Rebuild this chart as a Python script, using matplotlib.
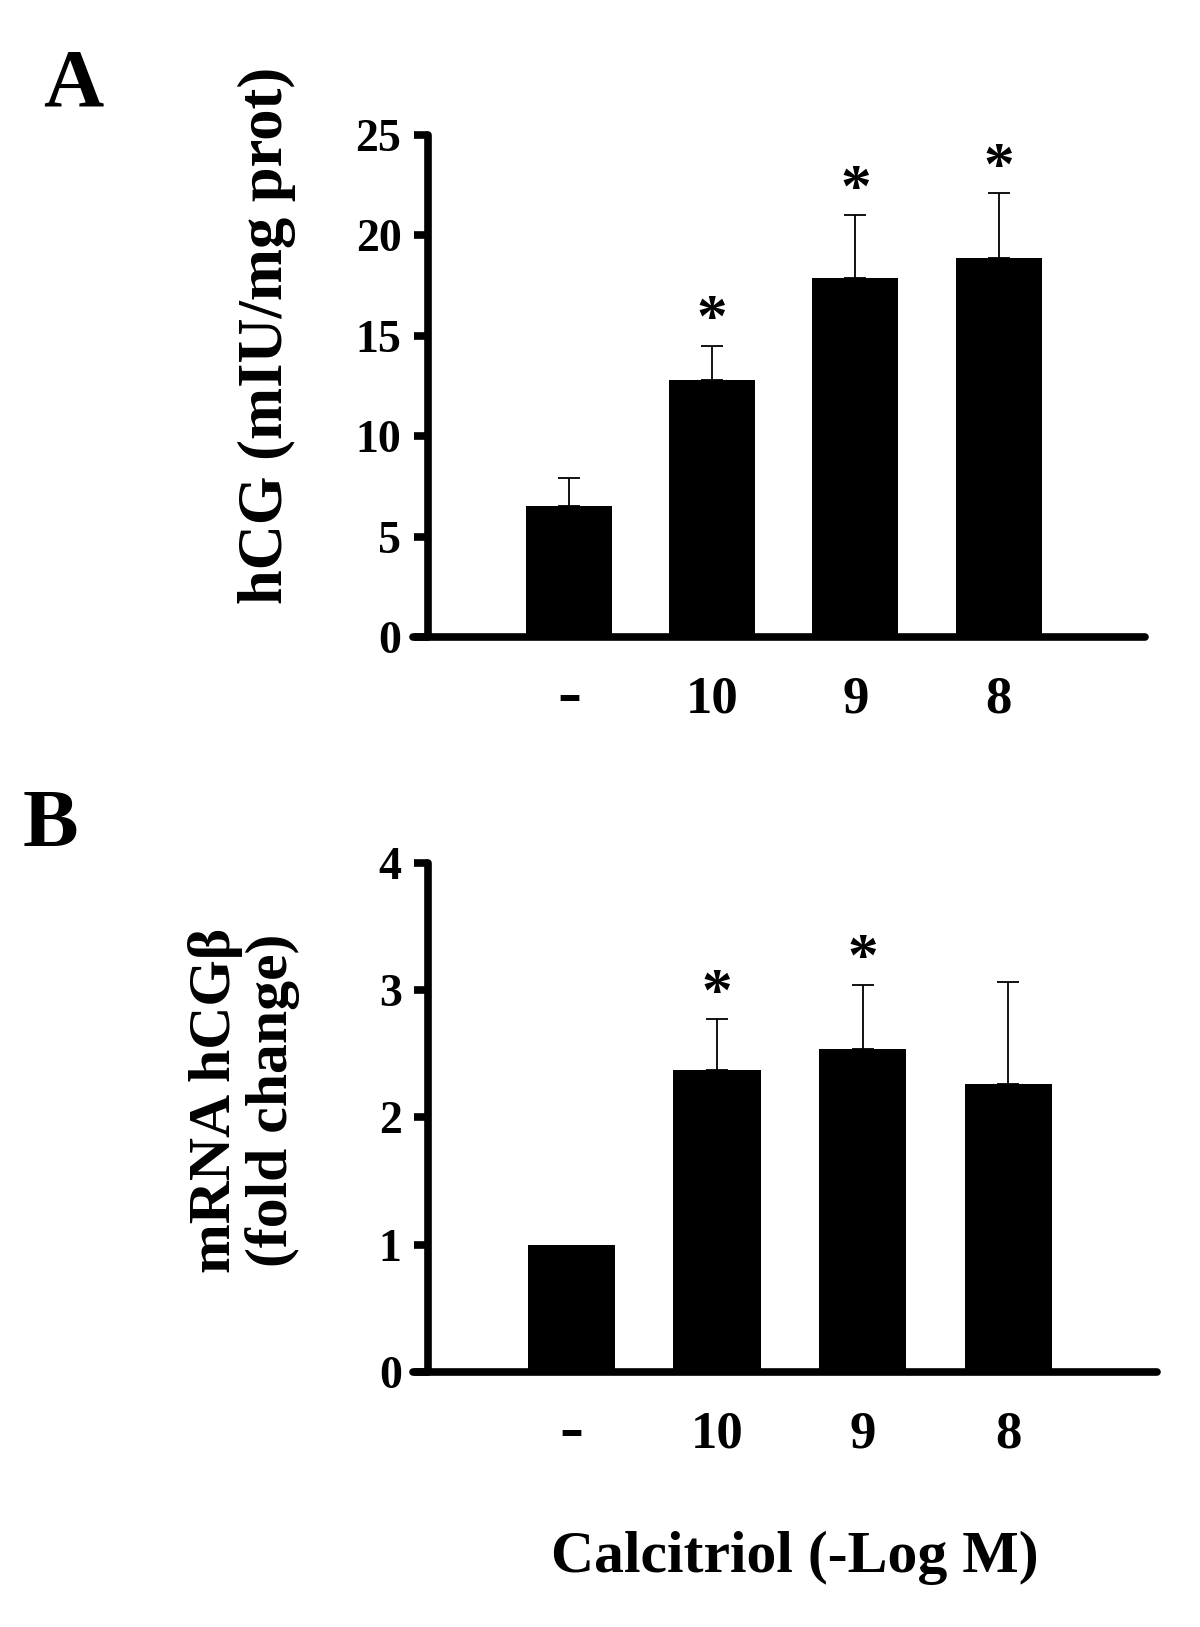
import numpy as np
import matplotlib
matplotlib.use('Agg')
import matplotlib.pyplot as plt
import matplotlib.transforms as mtransforms

# 数据
groups = ['-', '10', '9', '8']
hcg_mean = [6.5, 12.8, 17.9, 18.9]      # A: hCG (mIU/mg prot)
hcg_err = [1.4, 1.7, 3.1, 3.2]
hcg_sig = [False, True, True, True]

mrna_mean = [1.0, 2.37, 2.54, 2.26]     # B: mRNA hCGβ (fold change)
mrna_err = [0.0, 0.40, 0.50, 0.80]
mrna_sig = [False, True, True, False]

plt.rcParams['font.family'] = ['Liberation Serif', 'DejaVu Serif']
plt.rcParams['font.weight'] = 'bold'

fig = plt.figure(figsize=(12, 16.27), dpi=100)
ax_a = fig.add_axes([0.344, 0.6085, 0.610, 0.3085])
ax_b = fig.add_axes([0.344, 0.1567, 0.620, 0.313])


def draw_panel(ax, means, errs, sig, ymax, yticks):
    x = np.arange(len(means))
    means = np.array(means)
    errs = np.array(errs)
    ax.bar(x, means, width=0.6, color='black', zorder=2)
    m = errs > 0
    ax.errorbar(x[m], means[m], yerr=[np.zeros(m.sum()), errs[m]], fmt='none',
                ecolor='black', elinewidth=1.3, capsize=8, capthick=1.3, zorder=3)
    # 显著性星号
    for xi, mi, ei, s in zip(x, means, errs, sig):
        if s:
            ax.annotate('*', (xi, mi + ei), xytext=(0, 7), textcoords='offset points',
                        ha='center', va='baseline', fontsize=44, fontweight='bold')
    ax.set_xlim(-1.09, 4.02)
    ax.set_ylim(0, ymax)
    ax.set_yticks(yticks)
    ax.set_xticks(x)
    ax.set_xticklabels(groups)
    for side in ['top', 'right']:
        ax.spines[side].set_visible(False)
    ax.spines['left'].set_position(('data', -0.985))
    for side in ['left', 'bottom']:
        ax.spines[side].set_linewidth(5.5)
        ax.spines[side].set_capstyle('round')
        ax.spines[side].set_zorder(4)
    ax.tick_params(axis='y', length=10, width=5.5, pad=9, labelsize=33)
    ax.tick_params(axis='x', length=0, pad=28, labelsize=38)
    for lab in ax.get_xticklabels() + ax.get_yticklabels():
        lab.set_fontweight('bold')
    # "-" 标签在原图中较粗大，稍微上移
    dash = ax.get_xticklabels()[0]
    dash.set_fontsize(52)
    dash.set_transform(dash.get_transform() +
                       mtransforms.ScaledTranslation(0, 8 / 72, fig.dpi_scale_trans))


draw_panel(ax_a, hcg_mean, hcg_err, hcg_sig, 25, [0, 5, 10, 15, 20, 25])
draw_panel(ax_b, mrna_mean, mrna_err, mrna_sig, 4, [0, 1, 2, 3, 4])

# 坐标轴标签
ax_a.set_ylabel('hCG (mIU/mg prot)', fontsize=45, fontweight='bold')
ax_a.yaxis.set_label_coords(-0.160, 0.60)
ax_b.set_ylabel('mRNA hCGβ\n(fold change)', fontsize=43, fontweight='bold', linespacing=1.05)
ax_b.yaxis.set_label_coords(-0.151, 0.534)
ax_b.set_xlabel('Calcitriol (-Log M)', fontsize=43, fontweight='bold')
ax_b.xaxis.set_label_coords(0.513, -0.312)

# 面板字母
fig.text(43 / 1200, 1 - 106 / 1627, 'A', fontsize=60, fontweight='bold', va='baseline')
fig.text(23 / 1200, 1 - 846 / 1627, 'B', fontsize=60, fontweight='bold', va='baseline')

plt.savefig('out.png', dpi=100)
